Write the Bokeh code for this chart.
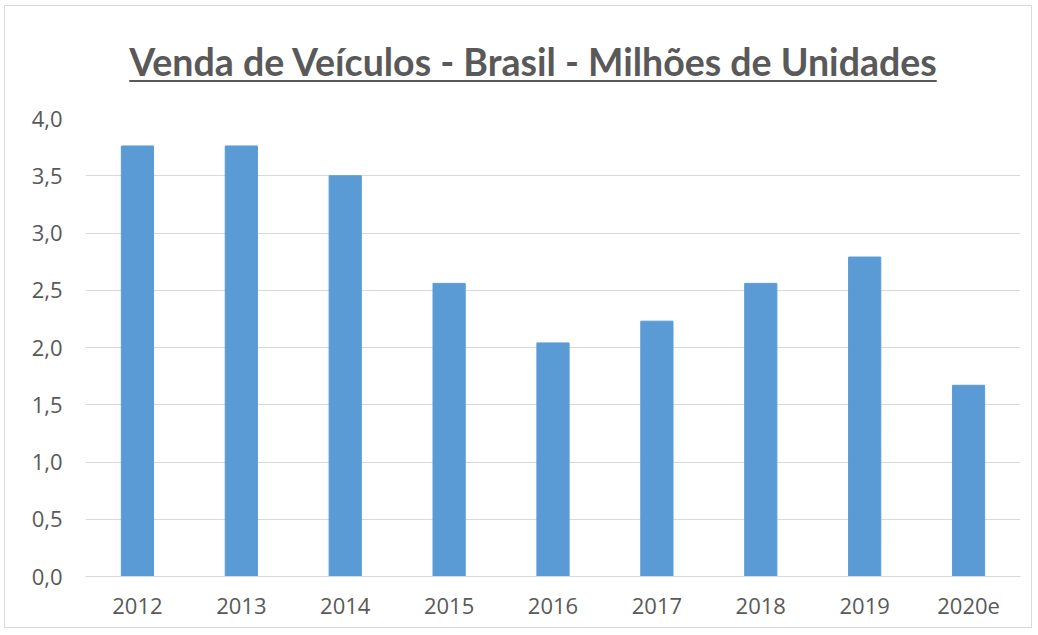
from bokeh.plotting import figure
from bokeh.models import Div, FixedTicker, CustomJSTickFormatter, ColumnDataSource
from bokeh.layouts import column
from bokeh.embed import file_html
from bokeh.resources import INLINE

years = ["2012", "2013", "2014", "2015", "2016", "2017", "2018", "2019", "2020e"]
sales = [3.76, 3.76, 3.50, 2.56, 2.04, 2.23, 2.56, 2.79, 1.67]
y_ticks = [0.0, 0.5, 1.0, 1.5, 2.0, 2.5, 3.0, 3.5, 4.0]
title_text = "Venda de Veículos - Brasil - Milhões de Unidades"

TXT = "#595959"
GRID = "#d9d9d9"

title = Div(
    text=f'<div style="font-family: Lato, sans-serif; font-weight: bold; font-size: 37.5px; '
         f'color: {TXT}; text-decoration: underline; text-decoration-thickness: 2px; '
         f'text-underline-offset: 4px; text-align: center; width: 1016px; padding-left: 30px; '
         f'box-sizing: border-box; padding-top: 24px; white-space: nowrap;">{title_text}</div>',
    width=1016, height=86,
)

src = ColumnDataSource(dict(x=years, y=sales))
p = figure(x_range=years, y_range=(0, 4.0), width=1016, height=525,
           output_backend="svg", toolbar_location=None,
           min_border_left=80, min_border_right=1, min_border_top=16, min_border_bottom=51)
p.vbar(x="x", top="y", width=0.31, source=src, color="#5B9BD5", line_color="#5B9BD5")

p.outline_line_color = None
p.xgrid.grid_line_color = None
p.ygrid.grid_line_color = GRID
p.ygrid.grid_line_width = 1
p.yaxis.ticker = FixedTicker(ticks=y_ticks)
p.yaxis.formatter = CustomJSTickFormatter(code="return tick.toFixed(1).replace('.', ',');")
p.yaxis.axis_line_color = None
p.yaxis.major_tick_line_color = None
p.yaxis.minor_tick_line_color = None
p.yaxis.major_label_standoff = 17
p.xaxis.axis_line_color = GRID
p.xaxis.major_tick_line_color = None
p.xaxis.minor_tick_line_color = None
p.xaxis.major_label_standoff = 15
for ax in (p.xaxis, p.yaxis):
    ax.major_label_text_font = "Open Sans"
    ax.major_label_text_font_size = "22px"
    ax.major_label_text_color = TXT
p.x_range.range_padding = 0

layout = column(title, p, styles={"border": f"1px solid {GRID}", "margin-left": "4px", "margin-top": "5px"})

open("out.html", "w").write(file_html(layout, INLINE))
